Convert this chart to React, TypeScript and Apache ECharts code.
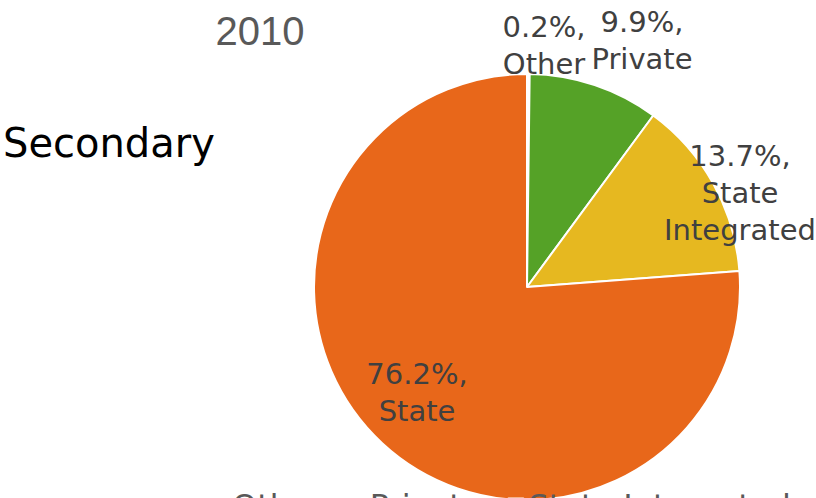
import React, { useEffect, useRef } from "react";
import * as echarts from "echarts";

const categories = ["Other", "Private", "State Integrated", "State"];
const shares = [0.2, 9.9, 13.7, 76.2];
const colors = ["#FFFFFF", "#55A227", "#E6B820", "#E8671A"];
const chartTitle = "2010";
const sideLabel = "Secondary";

export default function App() {
  const ref = useRef<HTMLDivElement>(null);
  useEffect(() => {
    if (!ref.current) return;
    const chart = echarts.init(ref.current, null, { renderer: "svg" });
    const labelPos: Record<string, [number, number]> = {
      Other: [544, 45.5],
      Private: [642, 40],
      "State Integrated": [740, 192.5],
      State: [417, 392],
    };
    chart.setOption({
      animation: false,
      backgroundColor: "#ffffff",
      graphic: [
        {
          type: "text",
          x: 260,
          y: 30.5,
          style: {
            text: chartTitle,
            fill: "#595959",
            font: "40px 'Liberation Sans', sans-serif",
            align: "center",
            verticalAlign: "middle",
          },
        },
        {
          type: "text",
          x: 3,
          y: 143,
          style: {
            text: sideLabel,
            fill: "#000000",
            font: "40px 'DejaVu Sans', sans-serif",
            align: "left",
            verticalAlign: "middle",
          },
        },
      ],
      legend: {
        data: categories,
        left: 206,
        top: 485,
        icon: "rect",
        itemWidth: 15,
        itemHeight: 15,
        itemGap: 26,
        selectedMode: false,
        textStyle: {
          fontFamily: "DejaVu Sans",
          fontSize: 32,
          color: "#595959",
        },
      },
      series: [
        {
          type: "pie",
          center: [527, 287],
          radius: 213,
          startAngle: 90,
          clockwise: true,
          avoidLabelOverlap: false,
          data: categories.map((name, i) => ({
            name,
            value: shares[i],
            itemStyle: { color: colors[i] },
          })),
          itemStyle: { borderColor: "#ffffff", borderWidth: 2 },
          label: {
            show: true,
            position: "outside",
            formatter: (p: any) =>
              `${Number(p.value).toFixed(1)}%,\n${String(p.name).replace(" ", "\n")}`,
            fontFamily: "DejaVu Sans",
            fontSize: 29,
            lineHeight: 37,
            color: "#404040",
            align: "center",
          },
          labelLine: { show: false },
          labelLayout: (params: any) => {
            const name = categories[params.dataIndex];
            const pos = labelPos[name];
            return {
              x: pos[0],
              y: pos[1],
              align: "center",
              verticalAlign: "middle",
            };
          },
          emphasis: { disabled: true },
        },
      ],
    });
    return () => chart.dispose();
  }, []);
  return (
    <div
      ref={ref}
      style={{ position: "fixed", left: 0, top: 0, width: 816, height: 498 }}
    />
  );
}
